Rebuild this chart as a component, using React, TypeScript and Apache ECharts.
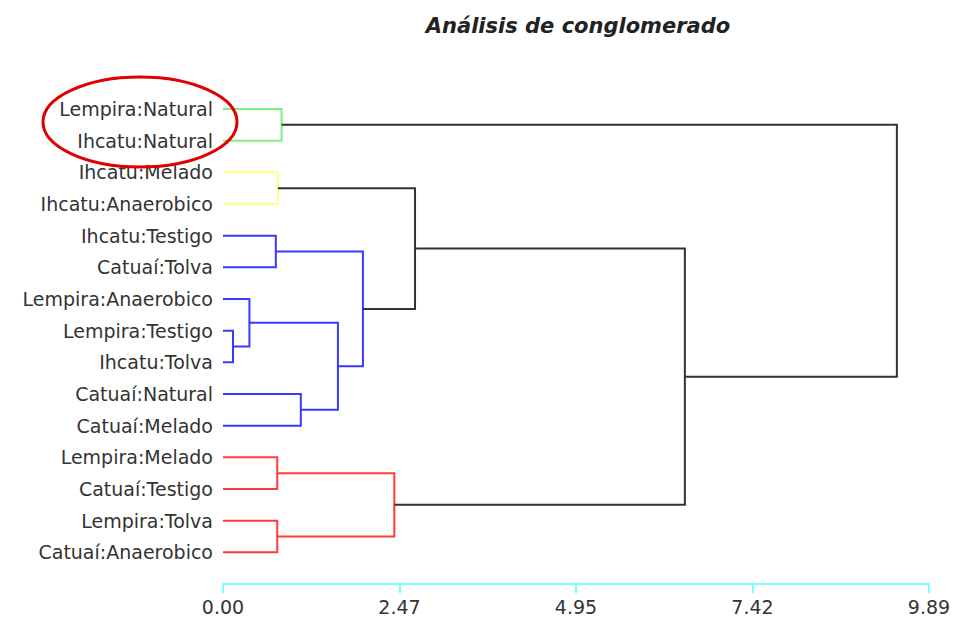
import React, { useEffect, useRef } from "react";
import * as echarts from "echarts";

const leaves = [
  "Lempira:Natural",
  "Ihcatu:Natural",
  "Ihcatu:Melado",
  "Ihcatu:Anaerobico",
  "Ihcatu:Testigo",
  "Catuaí:Tolva",
  "Lempira:Anaerobico",
  "Lempira:Testigo",
  "Ihcatu:Tolva",
  "Catuaí:Natural",
  "Catuaí:Melado",
  "Lempira:Melado",
  "Catuaí:Testigo",
  "Lempira:Tolva",
  "Catuaí:Anaerobico",
];

// merge i creates node id leaves.length + i
const mergeLeft = [7, 6, 9, 16, 4, 19, 2, 21, 11, 13, 23, 22, 0, 27];
const mergeRight = [8, 15, 10, 17, 5, 18, 3, 20, 12, 14, 24, 25, 1, 26];
const mergeHeight = [0.14, 0.37, 1.09, 1.61, 0.74, 1.96, 0.77, 2.69, 0.76, 0.76, 2.4, 6.47, 0.82, 9.44];
const mergeGroup = ["blue", "blue", "blue", "blue", "blue", "blue", "yellow", "black", "red", "red", "red", "black", "green", "black"];

const tickLabels = ["0.00", "2.47", "4.95", "7.42", "9.89"];
const axisMax = 9.89;

const groupColors: Record<string, string> = {
  blue: "#3a3aff",
  yellow: "#ffff80",
  red: "#ff3a3a",
  green: "#80f080",
  black: "#333333",
};

function buildLines() {
  const n = leaves.length;
  const ypos: number[] = leaves.map((_, i) => i);
  const hpos: number[] = leaves.map(() => 0);
  const data: any[] = [];
  for (let i = 0; i < mergeLeft.length; i++) {
    const a = mergeLeft[i];
    const b = mergeRight[i];
    const h = mergeHeight[i];
    const ya = ypos[a];
    const yb = ypos[b];
    data.push({
      coords: [
        [hpos[a], ya],
        [h, ya],
        [h, yb],
        [hpos[b], yb],
      ],
      lineStyle: { color: groupColors[mergeGroup[i]] },
    });
    ypos[n + i] = (ya + yb) / 2;
    hpos[n + i] = h;
  }
  return data;
}

export default function App() {
  const ref = useRef<HTMLDivElement>(null);
  useEffect(() => {
    if (!ref.current) return;
    const chart = echarts.init(ref.current, undefined, { renderer: "svg" });
    const step = axisMax / 4;
    chart.setOption({
      animation: false,
      backgroundColor: "#ffffff",
      grid: { left: 223, right: 26, top: 109, bottom: 34, containLabel: false },
      xAxis: {
        type: "value",
        position: "bottom",
        min: 0,
        max: axisMax,
        interval: step,
        splitLine: { show: false },
        axisLine: { show: true, onZero: false, lineStyle: { color: "#80ffff", width: 2 } },
        axisTick: { show: true, inside: false, length: 9, lineStyle: { color: "#80ffff", width: 2 } },
        axisLabel: {
          margin: 13,
          fontFamily: "DejaVu Sans",
          fontSize: 19,
          color: "#333333",
          formatter: (v: number) => tickLabels[Math.round(v / step)] ?? "",
        },
      },
      yAxis: {
        type: "value",
        inverse: true,
        min: 0,
        max: leaves.length,
        interval: 1,
        splitLine: { show: false },
        axisLine: { show: false },
        axisTick: { show: false },
        axisLabel: {
          margin: 10,
          fontFamily: "DejaVu Sans",
          fontSize: 19,
          color: "#333333",
          formatter: (v: number) => leaves[v] ?? "",
        },
      },
      series: [
        {
          type: "lines",
          coordinateSystem: "cartesian2d",
          polyline: true,
          silent: true,
          lineStyle: { width: 2, opacity: 1 },
          data: buildLines(),
        },
      ],
      graphic: [
        {
          type: "text",
          x: 578,
          y: 26,
          style: {
            text: "Análisis de conglomerado",
            fontFamily: "DejaVu Sans",
            fontSize: 21,
            fontWeight: "bold",
            fontStyle: "italic",
            fill: "#222222",
            textAlign: "center",
            textVerticalAlign: "middle",
          },
        },
        {
          type: "ellipse",
          shape: { cx: 140, cy: 122, rx: 97, ry: 45 },
          style: { fill: "none", stroke: "#e00000", lineWidth: 3 },
          z: 10,
        },
      ],
    });
    return () => chart.dispose();
  }, []);
  return (
    <div
      ref={ref}
      style={{ position: "fixed", left: 0, top: 0, width: 955, height: 618 }}
    />
  );
}
